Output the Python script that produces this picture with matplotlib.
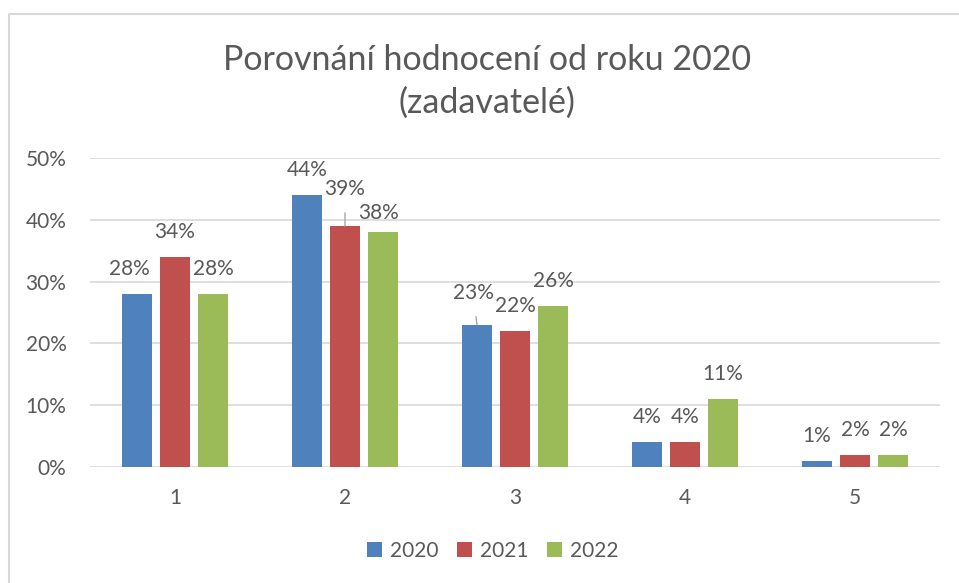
import numpy as np
import matplotlib.pyplot as plt
from matplotlib.lines import Line2D

# ratings 1..5, share of answers per year (percent)
categories = ['1', '2', '3', '4', '5']
years = ['2020', '2021', '2022']
vals_2020 = [28, 44, 23, 4, 1]
vals_2021 = [34, 39, 22, 4, 2]
vals_2022 = [28, 38, 26, 11, 2]
series = [vals_2020, vals_2021, vals_2022]
colors = ['#4F81BD', '#C0504D', '#9BBB59']

plt.rcParams['font.family'] = ['Lato', 'DejaVu Sans']
txt_col = '#595959'
grid_col = '#D9D9D9'

fig = plt.figure(figsize=(9.59, 5.83), dpi=100)
ax = fig.add_axes([90/959, 1-467/583, 850/959, 309/583])

x = np.arange(len(categories))
w = 0.18
step = 0.2235

# label offsets in pixels (dx, dy) from the bar top to the label centre
default_off = (0, 25)
special_off = {(0, 0): (-8, 25), (2, 1): (-4, 19),
               (1, 1): (0, 37), (0, 2): (-4, 32)}
leaders = {(1, 1), (0, 2)}
px = 0.72

for i, vals in enumerate(series):
    pos = x + (i - 1) * step
    ax.bar(pos, vals, width=w, color=colors[i], label=years[i], zorder=3)
    for j, v in enumerate(vals):
        dx, dy = special_off.get((i, j), default_off)
        kw = {}
        if (i, j) in leaders:
            kw['arrowprops'] = dict(arrowstyle='-', color='#A6A6A6', lw=1,
                                    shrinkA=8, shrinkB=0)
        ax.annotate('%d%%' % v, xy=(pos[j], v), xytext=(dx*px, dy*px),
                    textcoords='offset points', ha='center', va='center',
                    fontsize=15, color=txt_col, zorder=4, **kw)

ax.set_xlim(-0.5, 4.5)
ax.set_ylim(0, 50)
ax.set_yticks(range(0, 51, 10))
ax.set_yticklabels(['%d%%' % t for t in range(0, 51, 10)])
ax.set_xticks(x)
ax.set_xticklabels(categories)
ax.tick_params(axis='both', length=0, labelsize=15, labelcolor=txt_col)
ax.tick_params(axis='y', pad=17)
ax.tick_params(axis='x', pad=15)
for s in ax.spines.values():
    s.set_visible(False)
ax.yaxis.grid(True, color=grid_col, lw=1.2, zorder=0)
ax.set_axisbelow(True)

fig.text(487/959, 1-60/583, 'Porovnání hodnocení od roku 2020',
         ha='center', va='center', fontsize=24.5, color=txt_col)
fig.text(487/959, 1-103/583, '(zadavatelé)',
         ha='center', va='center', fontsize=24.5, color=txt_col)

ax.legend(loc='center', bbox_to_anchor=(493/959, 1-551/583), bbox_transform=fig.transFigure,
          ncol=3, frameon=False, fontsize=15, labelcolor=txt_col,
          handlelength=0.7, handleheight=0.7, handletextpad=0.4, columnspacing=0.9)

# chart frame
fig.add_artist(Line2D([8.5/959, 8.5/959, 1], [0, 1-13.5/583, 1-13.5/583],
                      transform=fig.transFigure, color=grid_col, lw=1.5))

fig.savefig('out.png', dpi=100)
